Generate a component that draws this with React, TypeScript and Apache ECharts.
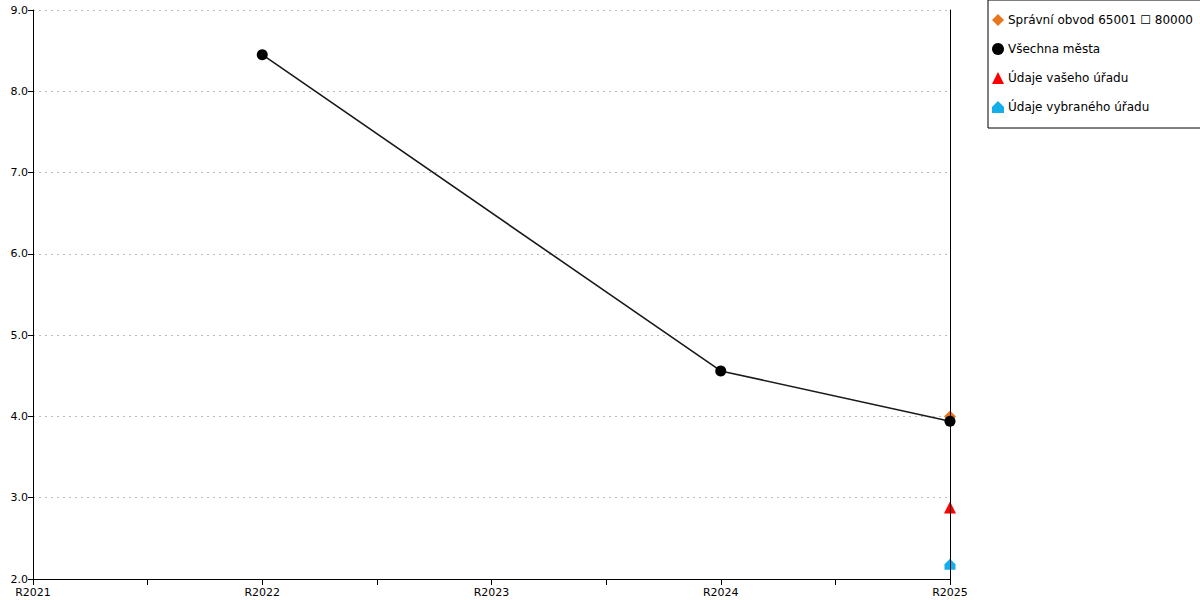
import React, { useEffect, useRef } from "react";
import * as echarts from "echarts";

const years = [2021, 2022, 2023, 2024, 2025];
const seriesNames = [
  "Správní obvod 65001 ☐ 80000",
  "Všechna města",
  "Údaje vašeho úřadu",
  "Údaje vybraného úřadu",
];
const obvodData: [number, number][] = [[2025, 4.0]];
const mestaData: [number, number][] = [
  [2022, 8.45],
  [2024, 4.56],
  [2025, 3.94],
];
const vasData: [number, number][] = [[2025, 2.88]];
const vybranyData: [number, number][] = [[2025, 2.18]];

const HOUSE = "path://M5,0 L10,5 L10,10 L0,10 L0,5 Z";
const FONT = "DejaVu Sans";

export default function App() {
  const ref = useRef<HTMLDivElement>(null);
  useEffect(() => {
    if (!ref.current) return;
    const chart = echarts.init(ref.current, null, { renderer: "svg" });
    chart.setOption({
      animation: false,
      textStyle: { fontFamily: FONT },
      grid: { left: 33, right: 250, top: 10, bottom: 21, containLabel: false },
      legend: {
        orient: "vertical",
        left: 988,
        top: 0,
        padding: [14, 8, 15, 4],
        itemGap: 17,
        itemWidth: 12,
        itemHeight: 12,
        itemStyle: { borderWidth: 0, opacity: 1 },
        borderColor: "#000",
        borderWidth: 1,
        backgroundColor: "#fff",
        textStyle: { fontFamily: FONT, fontSize: 12, color: "#000", padding: [0, 0, 0, -1] },
        data: [
          { name: seriesNames[0], icon: "diamond" },
          { name: seriesNames[1], icon: "circle" },
          { name: seriesNames[2], icon: "triangle" },
          { name: seriesNames[3], icon: HOUSE },
        ],
      },
      xAxis: {
        type: "value",
        min: years[0],
        max: years[years.length - 1],
        interval: 0.5,
        axisLine: { show: true, lineStyle: { color: "#000", width: 1 } },
        axisTick: { show: true, length: 6, lineStyle: { color: "#000" } },
        splitLine: { show: false },
        axisLabel: {
          color: "#000",
          fontSize: 11,
          fontFamily: FONT,
          margin: 8,
          formatter: (v: number) => (Number.isInteger(v) ? "R" + v : ""),
        },
      },
      yAxis: [
        {
          type: "value",
          min: 2,
          max: 9,
          interval: 1,
          axisLine: { show: true, lineStyle: { color: "#000", width: 1 } },
          axisTick: { show: true, length: 5, lineStyle: { color: "#000" } },
          splitLine: { show: true, lineStyle: { color: "#bbb", type: [2, 4], width: 1 } },
          axisLabel: {
            color: "#000",
            fontSize: 11,
            fontFamily: FONT,
            margin: 5,
            formatter: (v: number) => v.toFixed(1),
          },
        },
        {
          type: "value",
          min: 2,
          max: 9,
          interval: 1,
          position: "right",
          z: 10,
          axisLine: { show: true, onZero: false, lineStyle: { color: "#000", width: 1 } },
          axisTick: { show: false },
          axisLabel: { show: false },
          splitLine: { show: false },
        },
      ],
      series: [
        {
          name: seriesNames[0],
          type: "scatter",
          data: obvodData,
          symbol: "diamond",
          symbolSize: 12,
          itemStyle: { color: "#E8761E", opacity: 1 },
          z: 2,
        },
        {
          name: seriesNames[1],
          type: "line",
          data: mestaData,
          symbol: "circle",
          symbolSize: 11,
          showAllSymbol: true,
          lineStyle: { color: "#1a1a1a", width: 1.6 },
          itemStyle: { color: "#000", opacity: 1 },
          z: 3,
        },
        {
          name: seriesNames[2],
          type: "scatter",
          data: vasData,
          symbol: "triangle",
          symbolSize: 12,
          itemStyle: { color: "#FF0000", opacity: 1 },
          z: 2,
        },
        {
          name: seriesNames[3],
          type: "scatter",
          data: vybranyData,
          symbol: HOUSE,
          symbolSize: 11,
          itemStyle: { color: "#14AEEA", opacity: 1 },
          z: 2,
        },
      ],
    });
    return () => chart.dispose();
  }, []);
  return <div ref={ref} style={{ width: 1200, height: 600, position: "absolute", left: 0, top: 0 }} />;
}
